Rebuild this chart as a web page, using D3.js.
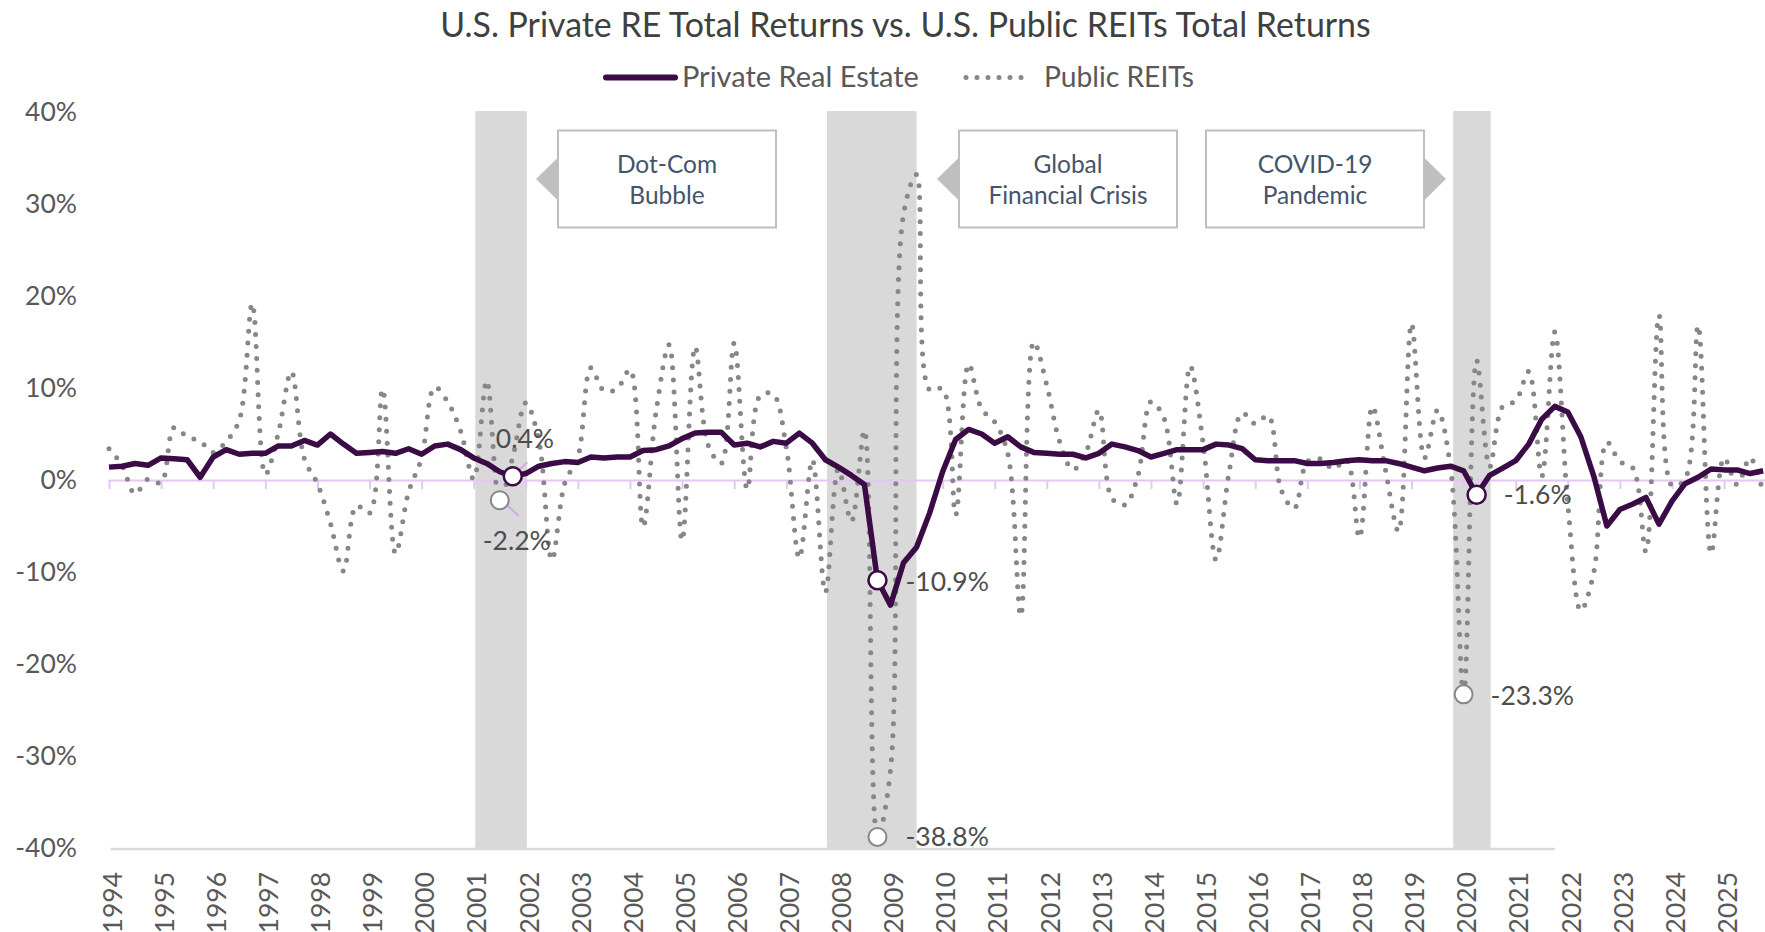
<!DOCTYPE html>
<html>
<head>
<meta charset="utf-8">
<script src="https://cdn.jsdelivr.net/npm/d3@7"></script>
<style>
  body { margin: 0; background: #fff; }
  svg { display: block; font-family: Lato, 'Open Sans', sans-serif; }
</style>
</head>
<body>
<div class="canvas"></div>
<script>
//                      DATA
//************************************************************************/

// x axis tick labels (one per year)
const yearLabels = ['1994', '1995', '1996', '1997', '1998', '1999', '2000', '2001',
    '2002', '2003', '2004', '2005', '2006', '2007', '2008', '2009', '2010', '2011',
    '2012', '2013', '2014', '2015', '2016', '2017', '2018', '2019', '2020', '2021',
    '2022', '2023', '2024', '2025'];

// y axis tick values (%)
const yTicks = [40, 30, 20, 10, 0, -10, -20, -30, -40];

// quarterly total returns (%), 1994 Q1 .. 2025 Q4
const privateRE = [
    1.4, 1.5, 1.8, 1.6,      // 1994
    2.4, 2.3, 2.2, 0.3,      // 1995
    2.5, 3.3, 2.8, 2.9,      // 1996
    2.9, 3.7, 3.7, 4.3,      // 1997
    3.8, 5.0, 3.9, 2.9,      // 1998
    3.0, 3.1, 2.9, 3.4,      // 1999
    2.8, 3.7, 3.9, 3.3,      // 2000
    2.4, 1.8, 0.9, 0.4,      // 2001
    0.7, 1.5, 1.8, 2.0,      // 2002
    1.9, 2.5, 2.4, 2.5,      // 2003
    2.5, 3.2, 3.3, 3.7,      // 2004
    4.5, 5.1, 5.2, 5.2,      // 2005
    3.8, 4.0, 3.6, 4.2,      // 2006
    4.0, 5.1, 4.0, 2.2,      // 2007
    1.4, 0.5, -0.5, -10.9,   // 2008
    -13.6, -9.0, -7.3, -3.6, // 2009
    0.9, 4.4, 5.5, 5.0,      // 2010
    4.0, 4.7, 3.6, 3.0,      // 2011
    2.9, 2.8, 2.8, 2.4,      // 2012
    2.9, 3.9, 3.6, 3.2,      // 2013
    2.5, 2.9, 3.3, 3.3,      // 2014
    3.3, 3.9, 3.8, 3.4,      // 2015
    2.2, 2.1, 2.1, 2.1,      // 2016
    1.8, 1.8, 1.9, 2.1,      // 2017
    2.2, 2.1, 2.1, 1.8,      // 2018
    1.4, 1.0, 1.3, 1.5,      // 2019
    1.0, -1.6, 0.5, 1.3,     // 2020
    2.1, 3.9, 6.6, 8.0,      // 2021
    7.4, 4.7, 0.4, -5.0,     // 2022
    -3.2, -2.6, -1.9, -4.8,  // 2023
    -2.3, -0.4, 0.3, 1.2,    // 2024
    1.1, 1.1, 0.7, 1.0       // 2025
];

const publicREITs = [
    3.4, 1.6, -1.5, 0.1,     // 1994
    -0.3, 5.7, 4.7, 4.2,     // 1995
    3.0, 4.2, 6.5, 19.2,     // 1996
    0.6, 5.1, 11.8, 2.3,     // 1997
    -0.4, -4.7, -9.9, -2.8,  // 1998
    -3.6, 9.9, -8.0, -1.3,   // 1999
    2.4, 10.1, 8.5, 5.3,     // 2000
    0.1, 10.8, -2.2, 2.5,    // 2001
    8.4, 4.3, -8.7, -0.3,    // 2002
    2.5, 12.2, 9.7, 9.9,     // 2003
    12.0, -5.1, 7.4, 14.7,   // 2004
    -6.6, 14.5, 3.8, 1.8,    // 2005
    14.9, -1.0, 9.2, 9.3,    // 2006
    3.5, -8.5, 2.2, -12.2,   // 2007
    1.2, -4.5, 5.4, -38.8,   // 2008
    -31.5, 28.9, 33.2, 9.8,  // 2009
    9.9, -3.8, 12.6, 7.7,    // 2010
    6.3, 2.9, -14.8, 15.0,   // 2011
    10.3, 4.1, 1.1, 3.0,     // 2012
    7.6, -2.0, -2.7, 0.5,    // 2013
    8.5, 6.7, -2.6, 12.4,    // 2014
    4.0, -8.7, 0.9, 7.3,     // 2015
    6.1, 7.0, -1.1, -3.1,    // 2016
    2.0, 2.3, 1.2, 2.2,      // 2017
    -6.3, 8.0, 1.1, -5.6,    // 2018
    17.0, 2.4, 7.6, 1.3,     // 2019
    -23.3, 13.0, 1.4, 8.0,   // 2020
    8.6, 11.8, 0.4, 16.1,    // 2021
    -2.6, -14.2, -10.0, 4.1, // 2022
    2.0, 1.3, -7.8, 17.9,    // 2023
    -0.6, 0.1, 16.8, -8.0,   // 2024
    2.4, -0.5, 2.4, -1.4     // 2025
];

// categories: one label per quarter
const quarters = yearLabels.flatMap(yr => ['Q1', 'Q2', 'Q3', 'Q4'].map(q => `${yr} ${q}`));

// shaded recession periods (fractional years)
const recessions = [
    { name: 'Dot-Com', start: 2001.03, end: 2002.02 },
    { name: 'GFC', start: 2007.78, end: 2009.5 },
    { name: 'COVID', start: 2019.8, end: 2020.52 }
];

// event call-out text
const eventNames = [['Dot-Com', 'Bubble'], ['Global', 'Financial Crisis'], ['COVID-19', 'Pandemic']];

// highlighted points (series, quarter)
const highlights = [
    { series: 'private', quarter: '2001 Q4' },
    { series: 'reits', quarter: '2001 Q3' },
    { series: 'private', quarter: '2008 Q4' },
    { series: 'reits', quarter: '2008 Q4' },
    { series: 'private', quarter: '2020 Q2' },
    { series: 'reits', quarter: '2020 Q1' }
];

//                      SETUP
//************************************************************************/
const width = 1765;
const height = 932;

const colors = {
    private: '#3b0b45',
    reits: '#878787',
    band: '#d9d9d9',
    zero: '#e6c6f3',
    leader: '#d9a6ec',
    text: '#595959',
    title: '#404040',
    box: '#44546a'
};

const svg = d3.select('.canvas')
    .append('svg')
    .attr('width', width)
    .attr('height', height);

// quarter label -> fractional year
const qTime = label => {
    const [yr, q] = label.split(' ');
    return +yr + (+q[1] - 1) / 4;
};

// scales
const x = d3.scaleLinear()
    .domain([1994, 2026])
    .range([109, 109 + 32 * 52.1]);

const y = d3.scaleLinear()
    .domain([-40, 40])
    .range([848, 112]);

const seriesData = {
    private: quarters.map((q, i) => ({ t: qTime(q), v: privateRE[i] })),
    reits: quarters.map((q, i) => ({ t: qTime(q), v: publicREITs[i] }))
};

// shrink / grow a text to a target width
const fitText = (sel, target) => {
    const len = sel.node().getComputedTextLength();
    const fs = parseFloat(sel.attr('font-size'));
    sel.attr('font-size', fs * target / len);
};

//                      TITLE + LEGEND
//************************************************************************/
const title = svg.append('text')
    .attr('x', 905.5)
    .attr('y', 37)
    .attr('text-anchor', 'middle')
    .attr('font-size', 30)
    .attr('fill', colors.title)
    .text('U.S. Private RE Total Returns vs. U.S. Public REITs Total Returns');
fitText(title, 931);

const legend = svg.append('g');
legend.append('line')
    .attr('x1', 606).attr('x2', 675)
    .attr('y1', 77.5).attr('y2', 77.5)
    .attr('stroke', colors.private)
    .attr('stroke-width', 6)
    .attr('stroke-linecap', 'round');
const leg1 = legend.append('text')
    .attr('x', 682).attr('y', 87)
    .attr('font-size', 28)
    .attr('fill', colors.text)
    .text('Private Real Estate');
fitText(leg1, 237);

legend.append('line')
    .attr('x1', 966).attr('x2', 1032)
    .attr('y1', 77.5).attr('y2', 77.5)
    .attr('stroke', colors.reits)
    .attr('stroke-width', 5)
    .attr('stroke-linecap', 'round')
    .attr('stroke-dasharray', '0 11');
const leg2 = legend.append('text')
    .attr('x', 1044).attr('y', 87)
    .attr('font-size', 28)
    .attr('fill', colors.text)
    .text('Public REITs');
fitText(leg2, 150);

//                      BACKGROUND: bottom rule, bands, boxes
//************************************************************************/
svg.append('line')
    .attr('x1', x(1994.03)).attr('x2', x(2021.75))
    .attr('y1', 849).attr('y2', 849)
    .attr('stroke', colors.band)
    .attr('stroke-width', 2.5);

svg.append('g')
    .selectAll('rect')
    .data(recessions)
    .enter()
    .append('rect')
    .attr('x', d => x(d.start))
    .attr('width', d => x(d.end) - x(d.start))
    .attr('y', y(40) - 1)
    .attr('height', y(-40) - y(40) + 3)
    .attr('fill', colors.band);

// event boxes (layout kept apart from the text)
const boxLayout = [
    { x0: 558, side: 'left' },
    { x0: 959, side: 'left' },
    { x0: 1206, side: 'right' }
];
const boxW = 218, boxTop = 130.5, boxH = 97, arrowW = 22, arrowH = 43;

const boxes = svg.append('g')
    .selectAll('g')
    .data(eventNames.map((lines, i) => ({ lines, ...boxLayout[i] })))
    .enter()
    .append('g');

boxes.append('path')
    .attr('d', d => {
        const cy = boxTop + boxH / 2;
        const bx = d.side === 'left' ? d.x0 : d.x0 + boxW;
        const tip = d.side === 'left' ? bx - arrowW : bx + arrowW;
        return `M${bx},${cy - arrowH / 2}L${tip},${cy}L${bx},${cy + arrowH / 2}Z`;
    })
    .attr('fill', '#bfbfbf');

boxes.append('rect')
    .attr('x', d => d.x0)
    .attr('y', boxTop)
    .attr('width', boxW)
    .attr('height', boxH)
    .attr('fill', '#fff')
    .attr('stroke', '#bfbfbf')
    .attr('stroke-width', 2);

boxes.each(function (d) {
    d3.select(this).selectAll('text')
        .data(d.lines)
        .enter()
        .append('text')
        .attr('x', d.x0 + boxW / 2)
        .attr('y', (l, i) => 172.5 + i * 31.5)
        .attr('text-anchor', 'middle')
        .attr('font-size', 24.5)
        .attr('fill', colors.box)
        .text(l => l);
});

//                      AXES
//************************************************************************/
// zero line with year ticks
const zeroAxis = d3.axisBottom(x)
    .tickValues(yearLabels.map(Number))
    .tickSize(9)
    .tickSizeOuter(0)
    .tickFormat('');

const zeroGroup = svg.append('g')
    .attr('transform', `translate(0, ${y(0)})`)
    .call(zeroAxis);
zeroGroup.selectAll('path, line')
    .attr('stroke', colors.zero)
    .attr('stroke-width', 2);

// year labels along the bottom, rotated
const yearAxis = d3.axisBottom(x)
    .tickValues(yearLabels.map(Number))
    .tickSize(0)
    .tickFormat(d => String(d));

const yearGroup = svg.append('g')
    .attr('transform', `translate(0, ${y(-40)})`)
    .call(yearAxis);
yearGroup.select('.domain').remove();
yearGroup.selectAll('text')
    .attr('transform', 'rotate(-90)')
    .attr('x', -24)
    .attr('y', 3)
    .attr('dy', '0.35em')
    .attr('text-anchor', 'end')
    .attr('font-size', 26.5)
    .attr('font-family', 'Lato')
    .attr('fill', colors.text);

// y labels
const yAxis = d3.axisLeft(y)
    .tickValues(yTicks)
    .tickSize(0)
    .tickPadding(0)
    .tickFormat(d => d + '%');

const yGroup = svg.append('g')
    .attr('transform', 'translate(77, 0)')
    .call(yAxis);
yGroup.select('.domain').remove();
yGroup.selectAll('text')
    .attr('font-size', 26.5)
    .attr('font-family', 'Lato')
    .attr('fill', colors.text);

//                      SERIES
//************************************************************************/
const line = d3.line()
    .x(d => x(d.t))
    .y(d => y(d.v));

svg.append('path')
    .datum(seriesData.reits)
    .attr('d', line.curve(d3.curveCatmullRom.alpha(0.5)))
    .attr('fill', 'none')
    .attr('stroke', colors.reits)
    .attr('stroke-width', 5)
    .attr('stroke-linecap', 'round')
    .attr('stroke-dasharray', '0 12');

svg.append('path')
    .datum(seriesData.private)
    .attr('d', line.curve(d3.curveLinear))
    .attr('fill', 'none')
    .attr('stroke', colors.private)
    .attr('stroke-width', 5.5)
    .attr('stroke-linejoin', 'round');

//                      HIGHLIGHTED POINTS
//************************************************************************/
// label offsets from the marker, and leader lines where Excel drew them
const labelStyle = {
    '2001 Q4|private': { dx: -17, dy: -28, leader: [2, -2, 14.5, -14] },
    '2001 Q3|reits': { dx: -17, dy: 50, leader: [2.5, 0, 19, 16] },
    '2008 Q4|private': { dx: 28, dy: 11 },
    '2008 Q4|reits': { dx: 28, dy: 9.5 },
    '2020 Q2|private': { dx: 27, dy: 9.5 },
    '2020 Q1|reits': { dx: 27, dy: 10.5 }
};

const points = highlights.map(h => {
    const i = quarters.indexOf(h.quarter);
    const v = h.series === 'private' ? privateRE[i] : publicREITs[i];
    return { ...h, px: x(qTime(h.quarter)), py: y(v), v, style: labelStyle[`${h.quarter}|${h.series}`] };
});

svg.append('g')
    .selectAll('line')
    .data(points.filter(p => p.style.leader))
    .enter()
    .append('line')
    .attr('x1', p => p.px + p.style.leader[0])
    .attr('y1', p => p.py + p.style.leader[1])
    .attr('x2', p => p.px + p.style.leader[2])
    .attr('y2', p => p.py + p.style.leader[3])
    .attr('stroke', colors.leader)
    .attr('stroke-width', 2);

svg.append('g')
    .selectAll('circle')
    .data(points.slice().sort((a, b) => (a.series === 'reits' ? -1 : 1)))
    .enter()
    .append('circle')
    .attr('cx', p => p.px)
    .attr('cy', p => p.py)
    .attr('r', 9)
    .attr('fill', '#fff')
    .attr('stroke', p => p.series === 'private' ? colors.private : colors.reits)
    .attr('stroke-width', p => p.series === 'private' ? 2.5 : 2);

svg.append('g')
    .selectAll('text')
    .data(points)
    .enter()
    .append('text')
    .attr('x', p => p.px + p.style.dx)
    .attr('y', p => p.py + p.style.dy)
    .attr('font-size', 26.5)
    .attr('fill', '#4d4d4d')
    .text(p => p.v.toFixed(1) + '%');
</script>
</body>
</html>
